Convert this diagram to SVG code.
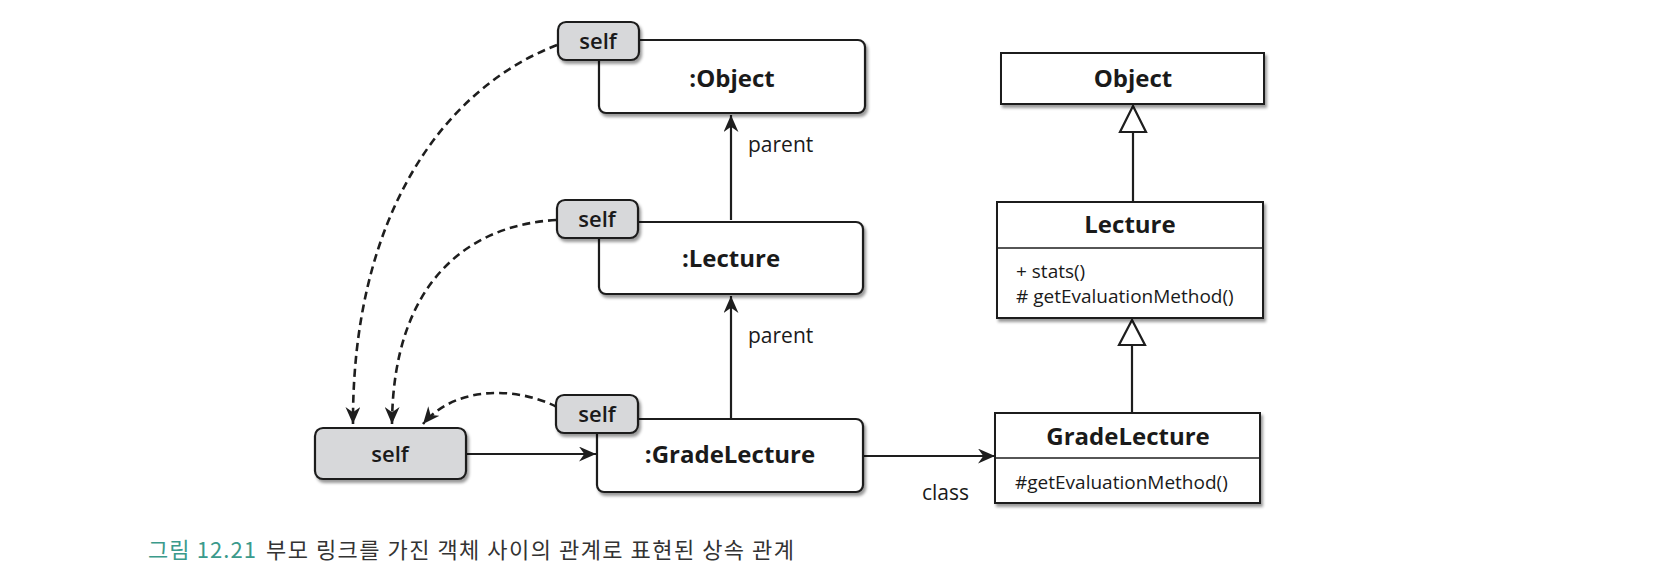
<svg xmlns="http://www.w3.org/2000/svg" width="1668" height="583" viewBox="0 0 1668 583">
<style>
  .box { fill: #ffffff; stroke: #1e1e1e; stroke-width: 2.2; filter: url(#sh); }
  .tag { fill: #d7d8da; stroke: #1e1e1e; stroke-width: 2.2; filter: url(#sh); }
  .cls { fill: #ffffff; stroke: #1e1e1e; stroke-width: 2; filter: url(#sh); }
  .div { stroke: #1e1e1e; stroke-width: 1.6; }
  .name { font-family: "Open Sans", "Noto Sans", "Liberation Sans", sans-serif; font-weight: 700; font-size: 24px; fill: #1a1a1a; text-anchor: middle; }
  .self { font-family: "Open Sans", "Noto Sans", "Liberation Sans", sans-serif; font-weight: 600; font-size: 22px; fill: #1a1a1a; text-anchor: middle; }
  .lbl { font-family: "Open Sans", "Noto Sans", "Liberation Sans", sans-serif; font-size: 21px; fill: #1a1a1a; }
  .mem { font-family: "Open Sans", "Noto Sans", "Liberation Sans", sans-serif; font-size: 19px; fill: #1a1a1a; }
  .solid { fill: none; stroke: #1e1e1e; stroke-width: 2.2; marker-end: url(#ah); }
  .dash { fill: none; stroke: #1e1e1e; stroke-width: 2.6; stroke-dasharray: 8 5; marker-end: url(#ah); }
  .gen { fill: none; stroke: #1e1e1e; stroke-width: 2.2; }
  .tri { fill: #ffffff; stroke: #1e1e1e; stroke-width: 2.2; }
  .cap { font-family: "Noto Sans CJK KR", "Noto Sans", sans-serif; font-size: 22px; font-weight: 400; }
</style>
<defs>
  <filter id="sh" x="-10%" y="-20%" width="125%" height="150%">
    <feDropShadow dx="2" dy="3" stdDeviation="1.8" flood-color="#000" flood-opacity="0.4"/>
  </filter>
  <marker id="ah" viewBox="0 0 16 14" refX="16" refY="7" markerWidth="17" markerHeight="15" markerUnits="userSpaceOnUse" orient="auto">
    <path d="M0,0 L16,7 L0,14 L5,7 Z" fill="#1e1e1e" stroke="none"/>
  </marker>
</defs>

<g id="connectors">
  <path class="solid" d="M731,220 L731,115"/>
  <path class="solid" d="M731,419 L731,296"/>
  <path class="solid" d="M466,454 L596,454"/>
  <path class="solid" d="M863,456 L995,456"/>
  <path class="dash" d="M557,45 C440,90 352,220 353,424"/>
  <path class="dash" d="M556,220 C470,225 393,280 392,424"/>
  <path class="dash" d="M557,407 C515,386 455,386 423,424"/>
  <path class="gen" d="M1133,202 L1133,132"/>
  <polygon class="tri" points="1133,106 1120,132 1146,132"/>
  <path class="gen" d="M1132,413 L1132,345"/>
  <polygon class="tri" points="1132,320 1119,345 1145,345"/>
  <text class="lbl" x="748" y="152">parent</text>
  <text class="lbl" x="748" y="343">parent</text>
  <text class="lbl" x="922" y="500">class</text>
</g>

<g id="obj-object">
  <rect class="box" x="599" y="40" width="266" height="73" rx="7"/>
  <text class="name" x="732" y="87">:Object</text>
  <rect class="tag" x="558" y="22" width="81" height="38" rx="8"/>
  <text class="self" x="598" y="49">self</text>
</g>

<g id="obj-lecture">
  <rect class="box" x="599" y="222" width="264" height="72" rx="7"/>
  <text class="name" x="731" y="267">:Lecture</text>
  <rect class="tag" x="557" y="200" width="81" height="38" rx="8"/>
  <text class="self" x="597" y="227">self</text>
</g>

<g id="obj-gradelecture">
  <rect class="box" x="597" y="419" width="266" height="73" rx="7"/>
  <text class="name" x="730" y="463">:GradeLecture</text>
  <rect class="tag" x="556" y="395" width="82" height="38" rx="8"/>
  <text class="self" x="597" y="422">self</text>
</g>

<g id="self-ref">
  <rect class="tag" x="315" y="428" width="151" height="51" rx="8"/>
  <text class="self" x="390" y="462">self</text>
</g>

<g id="class-object">
  <rect class="cls" x="1001" y="53" width="263" height="51"/>
  <text class="name" x="1133" y="87">Object</text>
</g>

<g id="class-lecture">
  <rect class="cls" x="997" y="202" width="266" height="116"/>
  <line class="div" x1="997" y1="248" x2="1263" y2="248"/>
  <text class="name" x="1130" y="233">Lecture</text>
  <text class="mem" x="1016" y="278">+ stats()</text>
  <text class="mem" x="1016" y="303">#&#160;getEvaluationMethod()</text>
</g>

<g id="class-gradelecture">
  <rect class="cls" x="995" y="413" width="265" height="90"/>
  <line class="div" x1="995" y1="458" x2="1260" y2="458"/>
  <text class="name" x="1128" y="445">GradeLecture</text>
  <text class="mem" x="1015" y="489">#getEvaluationMethod()</text>
</g>

<g id="caption">
  <text class="cap" x="148" y="558" fill="#3b9a8b" textLength="108">그림 12.21</text>
  <text class="cap" x="266" y="558" fill="#333333" textLength="528">부모 링크를 가진 객체 사이의 관계로 표현된 상속 관계</text>
</g>
</svg>
